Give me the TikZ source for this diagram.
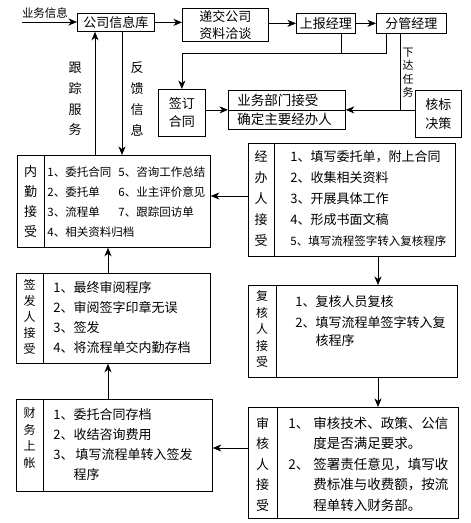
\documentclass[tikz,border=0pt]{standalone}
\usepackage{fontspec}
\setmainfont{Noto Sans CJK SC}
\usetikzlibrary{arrows.meta}
\newcommand{\fs}[2]{\fontsize{#1}{#2}\selectfont}
\begin{document}
\begin{tikzpicture}[x=1pt,y=-1pt,
  line width=0.75pt,
  box/.style={draw, line width=0.75pt, inner sep=0pt, anchor=north west, align=center},
  txt/.style={inner sep=0pt, align=center},
  lst/.style={inner sep=0pt, align=left, anchor=west},
  arr/.style={-{Stealth[length=8.5pt,width=7pt,inset=2.5pt]}}]
\useasboundingbox (0,0) rectangle (471,523);
% top row
\node[box, minimum width=77pt, minimum height=18pt, font=\fs{13}{16}] (gsxx) at (77,13) {公司信息库};
\node[box, minimum width=86pt, minimum height=33pt, font=\fs{13}{17}] (dj) at (182,8) {递交公司\\资料洽谈};
\node[box, minimum width=59pt, minimum height=20pt, font=\fs{13}{16}] (sb) at (296,13) {上报经理};
\node[box, minimum width=70pt, minimum height=20pt, font=\fs{13}{16}] (fg) at (376,13) {分管经理};
\node[txt, font=\fs{11.5}{14}] (ywxx) at (45,13) {业务信息};
% second row
\node[box, minimum width=47pt, minimum height=47pt, font=\fs{13}{18}] (qd) at (158,89) {签订\\合同};
\node[box, minimum width=117pt, minimum height=39pt] (yw) at (228,90) {};
\draw (yw.west) -- (yw.east);
\node[lst, font=\fs{13.5}{16}] (yw1) at (237,100) {业务部门接受};
\node[lst, font=\fs{13.5}{16}] (yw2) at (237,119.5) {确定主要经办人};
\node[box, minimum width=46pt, minimum height=47pt, font=\fs{13}{19}] (hb) at (415,90) {核标\\决策};
\node[txt, font=\fs{11}{13.5}] (xdrw) at (408,72.5) {下\\达\\任\\务};
\node[txt, font=\fs{13}{20.7}] (gzfw) at (75,99) {跟\\踪\\服\\务};
\node[txt, font=\fs{13}{20.7}] (fkxx) at (137,99) {反\\馈\\信\\息};
% 内勤接受
\node[box, minimum width=193pt, minimum height=92pt] (nq) at (17,155) {};
\draw ([xshift=27pt]nq.north west) -- ([xshift=27pt]nq.south west);
\node[txt, font=\fs{13}{20}] (nql) at (30.5,202) {内\\勤\\接\\受};
\node[lst, font=\fs{11.5}{20}] (nqa) at (47,202) {1、委托合同\\2、委托单\\3、流程单\\4、相关资料归档};
\node[lst, font=\fs{11.5}{20}] (nqb) at (118,192) {5、咨询工作总结\\6、业主评价意见\\7、跟踪回访单};
% 经办人接受
\node[box, minimum width=207pt, minimum height=113pt] (jb) at (248,143) {};
\draw ([xshift=26pt]jb.north west) -- ([xshift=26pt]jb.south west);
\node[txt, font=\fs{13}{21}] (jbl) at (261,199) {经\\办\\人\\接\\受};
\node[lst, font=\fs{13}{21}] (jbt) at (290,198) {1、填写委托单，附上合同\\2、收集相关资料\\3、开展具体工作\\4、形成书面文稿\\{\fs{11.5}{21}5、填写流程签字转入复核程序}};
% 复核人接受
\node[box, minimum width=209pt, minimum height=92pt] (fh) at (248,285) {};
\draw ([xshift=28pt]fh.north west) -- ([xshift=28pt]fh.south west);
\node[txt, font=\fs{12}{16.5}] (fhl) at (262,329) {复\\核\\人\\接\\受};
\node[lst, font=\fs{13}{21}] (fht) at (295,321) {1、复核人员复核\\2、填写流程单签字转入复\\[-3.5pt]\phantom{2、}核程序};
% 审核人接受
\node[box, minimum width=210pt, minimum height=111pt] (sh) at (248,407) {};
\draw ([xshift=29pt]sh.north west) -- ([xshift=29pt]sh.south west);
\node[txt, font=\fs{13}{20.5}] (shl) at (262.5,464) {审\\核\\人\\接\\受};
\node[lst, font=\fs{13.5}{20.5}] (sht) at (288,464) {\makebox[25pt][l]{1、}审核技术、政策、公信\\\hspace*{25pt}度是否满足要求。\\\makebox[25pt][l]{2、}签署责任意见，填写收\\\hspace*{25pt}费标准与收费额，按流\\\hspace*{25pt}程单转入财务部。};
% 签发人接受
\node[box, minimum width=194pt, minimum height=90pt] (qf) at (16,273) {};
\draw ([xshift=27pt]qf.north west) -- ([xshift=27pt]qf.south west);
\node[txt, font=\fs{12}{16}] (qfl) at (29.5,317) {签\\发\\人\\接\\受};
\node[lst, font=\fs{13}{20}] (qft) at (53,318) {1、最终审阅程序\\2、审阅签字印章无误\\3、签发\\4、将流程单交内勤存档};
% 财务上帐
\node[box, minimum width=196pt, minimum height=92pt] (cw) at (16,399) {};
\draw ([xshift=27pt]cw.north west) -- ([xshift=27pt]cw.south west);
\node[txt, font=\fs{12}{16.7}] (cwl) at (29.5,438) {财\\务\\上\\帐};
\node[lst, font=\fs{13}{20}] (cwt) at (53,445) {1、委托合同存档\\2、收结咨询费用\\3、\,填写流程单转入签发\\\phantom{3、}程序};
% connectors
\coordinate (in0) at (22,22);
\draw[arr] (in0) -- (in0 -| gsxx.west);
\draw[arr] (gsxx.east) -- (gsxx.east -| dj.west);
\draw[arr] (sb.west -| dj.east) -- (sb.west);
\draw[arr] (sb.east) -- (fg.west);
\coordinate (j1) at (386,53);
\coordinate (j2) at (341,53);
\draw[arr] (fg.south -| j1) -- (j1) -| (qd.north);
\draw (sb.south -| j2) -- (j2);
\coordinate (j3) at (400,109.5);
\draw (fg.south -| j3) -- (j3);
\draw[arr] (hb.west |- yw.east) -- (yw.east);
\draw[arr] (qd.east |- yw.west) -- (yw.west);
\coordinate (gz) at (95,0);
\draw[arr] (nq.north -| gz) -- (gsxx.south -| gz);
\coordinate (fk) at (122,0);
\draw[arr] (gsxx.south -| fk) -- (nq.north -| fk);
\coordinate (h1) at (0,196);
\draw[arr] (jb.west |- h1) -- (nq.east |- h1);
\coordinate (v1) at (378,0);
\draw[arr] (jb.south -| v1) -- (fh.north -| v1);
\draw[arr] (fh.south -| v1) -- (sh.north -| v1);
\coordinate (h2) at (0,448);
\draw[arr] (sh.west |- h2) -- (cw.east |- h2);
\coordinate (v2) at (108,0);
\draw[arr] (cw.north -| v2) -- (qf.south -| v2);
\draw[arr] (qf.north -| v2) -- (nq.south -| v2);
\end{tikzpicture}
\end{document}
